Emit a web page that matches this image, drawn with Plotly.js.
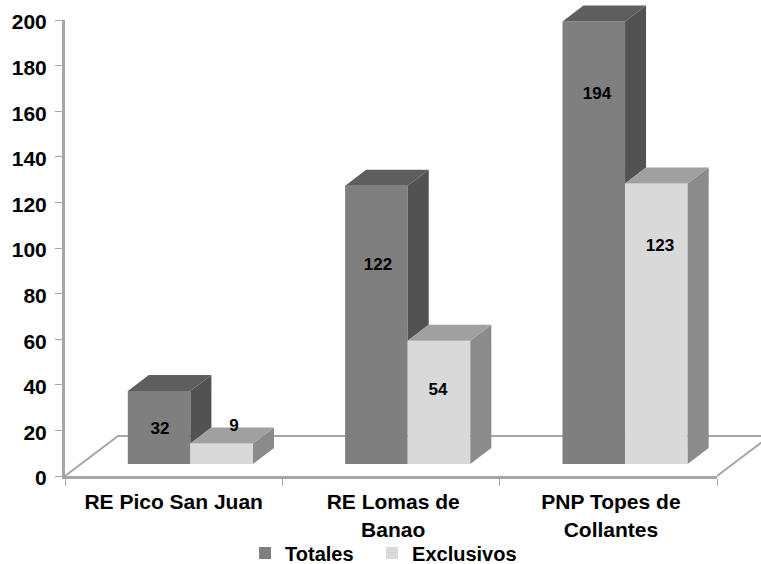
<!DOCTYPE html>
<html>
<head>
<meta charset="utf-8">
<script src="https://cdn.plot.ly/plotly-3.0.1.min.js"></script>
<style>html,body{margin:0;padding:0;background:#fff}#c{width:761px;height:564px}</style>
</head>
<body>
<div id="c"></div>
<script>
const categories = ['RE Pico San Juan', 'RE Lomas de<br>Banao', 'PNP Topes de<br>Collantes'];
const totales = [32, 122, 194];
const exclusivos = [9, 54, 123];
const yTicks = [0, 20, 40, 60, 80, 100, 120, 140, 160, 180, 200];
const categoryLabelX = [0, 1.01, 2.012];
const totalesLabelX = [-0.063, 0.94, 1.948];
const totalesLabelY = [20.1, 92.1, 167.1];
const exclusivosLabelX = [0.2776, 1.216, 2.238];
const exclusivosLabelY = [21.5, 37.3, 100.4];

const positions = categories.map((_, i) => i);
const W = 761, H = 564, L = 65, R = 717, T = 20, B = 476;
const xRange = [-0.5, 2.5], yRange = [0, 200];
const U = (R - L) / 3, V = (B - T) / 200;
const xFull = [-0.5 - L / U, -0.5 + (W - L) / U];
const yFull = [-(H - B) / V, B / V];
const barW = 0.288, offT = -0.211, offE = 0.077, floorBase = 5.3;
const depthX = 21 / U, depthY = 16 / V;
const floorDX = 53 / U, floorDY = 40 / V;
const FONT = 'Liberation Sans, Arial, sans-serif';
const C = {tF:'#7f7f7f', tT:'#5e5e5e', tS:'#525252', eF:'#d9d9d9', eT:'#a0a0a0', eS:'#8b8b8b', axis:'#a6a6a6'};

function poly(xs, ys, color) {
  return {type:'scatter', mode:'lines', x:xs, y:ys, fill:'toself', fillcolor:color,
          line:{width:0, color:color}, xaxis:'x3', yaxis:'y3',
          showlegend:false, hoverinfo:'skip'};
}
function faces(i, off, v, sideFrom, topC, sideC) {
  const l = i + off, r = l + barW, t = floorBase + v, b = floorBase + sideFrom;
  return [
    poly([r, r + depthX, r + depthX, r, r], [b, b + depthY, t + depthY, t, b], sideC),
    poly([l, r, r + depthX, l + depthX, l], [t, t, t + depthY, t + depthY, t], topC)
  ];
}

const traces = [];
// invisible trace keeps the base axes alive
traces.push({type:'scatter', mode:'none', x:xRange, y:yRange, showlegend:false, hoverinfo:'skip'});
// floor, below the bars
traces.push({type:'scatter', mode:'lines',
  x:[xRange[0], xRange[0] + floorDX, xRange[1] + floorDX, xRange[1]],
  y:[0, floorDY, floorDY, 0],
  line:{color:C.axis, width:2}, xaxis:'x2', yaxis:'y2', showlegend:false, hoverinfo:'skip'});
// bars
traces.push({type:'bar', name:'Totales', x:positions, y:totales, base:floorBase, width:barW, offset:offT,
  marker:{color:C.tF}, xaxis:'x3', yaxis:'y3', legend:'legend'});
traces.push({type:'bar', name:'Exclusivos', x:positions, y:exclusivos, base:floorBase, width:barW, offset:offE,
  marker:{color:C.eF}, xaxis:'x3', yaxis:'y3', legend:'legend2'});
// 3D faces derived from the values
positions.forEach(i => {
  traces.push(...faces(i, offT, totales[i], exclusivos[i], C.tT, C.tS));
  traces.push(...faces(i, offE, exclusivos[i], 0, C.eT, C.eS));
});
// value labels
traces.push({type:'scatter', mode:'text', x:totalesLabelX.concat(exclusivosLabelX),
  y:totalesLabelY.concat(exclusivosLabelY), text:totales.concat(exclusivos).map(String),
  textposition:'middle center', textfont:{family:FONT, size:17, weight:'bold', color:'#000'},
  xaxis:'x3', yaxis:'y3', showlegend:false, hoverinfo:'skip'});

const hidden = (range, anchor) => ({type:'linear', range, domain:[0, 1], anchor, visible:false, fixedrange:true});
const legendStyle = x => ({orientation:'h', x, xanchor:'left', y:1 - 553 / H, yanchor:'middle', bgcolor:'rgba(0,0,0,0)',
  font:{family:FONT, size:20, weight:'bold', color:'#000'}, itemwidth:30});
const layout = {
  width:W, height:H, paper_bgcolor:'#fff', plot_bgcolor:'rgba(0,0,0,0)',
  margin:{l:0, r:0, t:0, b:0, pad:0, autoexpand:false},
  font:{family:FONT, color:'#000'},
  xaxis:{type:'linear', domain:[L / W, R / W], range:xRange, anchor:'y', tickmode:'array', tickvals:categoryLabelX, ticktext:categories,
    ticks:'', showgrid:false, zeroline:false, showline:true, linecolor:C.axis, linewidth:3, ticklabelstandoff:5,
    tickfont:{family:FONT, size:21, weight:'bold', color:'#000'},
    minor:{tickmode:'array', tickvals:[-0.5, 0.5, 1.5, 2.5], ticks:'outside', ticklen:7, tickcolor:C.axis, tickwidth:1, showgrid:false}},
  yaxis:{type:'linear', domain:[(H - B) / H, (H - T) / H], range:yRange, anchor:'x', tickmode:'array', tickvals:yTicks, ticks:'outside', ticklen:7,
    tickcolor:C.axis, tickwidth:1, showgrid:false, zeroline:false, showline:true, linecolor:C.axis, linewidth:3, ticklabelstandoff:4, ticklabelshift:2,
    tickfont:{family:FONT, size:21, weight:'bold', color:'#000'}},
  xaxis2:hidden(xFull, 'y2'), yaxis2:hidden(yFull, 'x2'),
  xaxis3:hidden(xFull, 'y3'), yaxis3:hidden(yFull, 'x3'),
  barmode:'overlay',
  showlegend:true,
  legend:legendStyle(0.322),
  legend2:legendStyle(0.322 + 127 / W)
};
Plotly.newPlot('c', traces, layout, {staticPlot:true, displayModeBar:false});
</script>
</body>
</html>
